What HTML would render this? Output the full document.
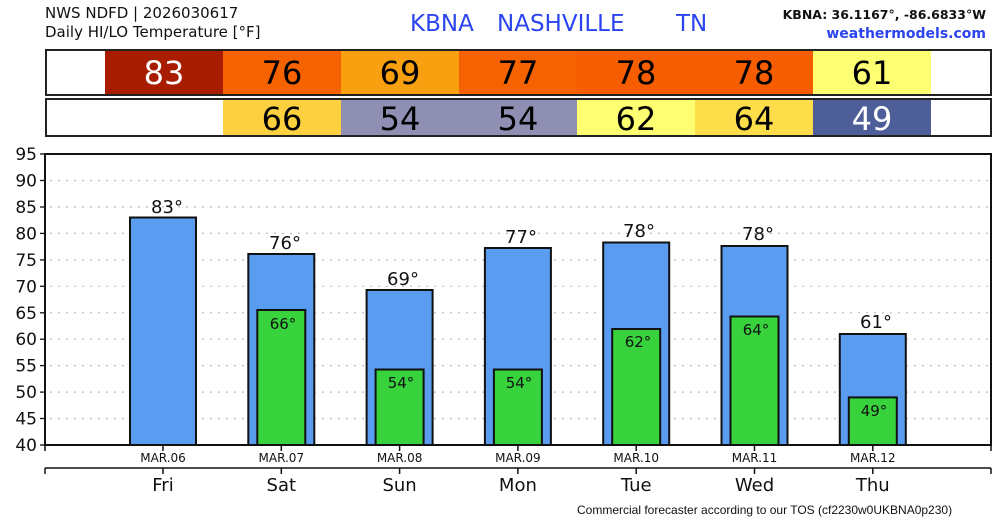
<!DOCTYPE html>
<html><head><meta charset="utf-8"><style>
html,body{margin:0;padding:0;background:#fff;}
svg{display:block;font-family:"DejaVu Sans","Liberation Sans",sans-serif;}
</style></head><body>
<svg width="1000" height="520" viewBox="0 0 1000 520" xmlns="http://www.w3.org/2000/svg">
<text x="45" y="18" font-size="15" fill="#111">NWS NDFD | 2026030617</text>
<text x="45" y="37" font-size="15" fill="#111">Daily HI/LO Temperature [°F]</text>
<text x="410" y="31" font-size="23" fill="#2a44f0">KBNA</text>
<text x="497" y="31" font-size="23" fill="#2a44f0">NASHVILLE</text>
<text x="676" y="31" font-size="23" fill="#2a44f0">TN</text>
<text x="986" y="19" font-size="12.5" fill="#111" text-anchor="end" font-weight="bold">KBNA: 36.1167°, -86.6833°W</text>
<text x="986" y="38" font-size="14" fill="#2a44f0" text-anchor="end" font-weight="bold">weathermodels.com</text>
<!-- HI row -->
<rect x="46" y="50" width="945" height="45" fill="#fff" stroke="#222" stroke-width="2"/>
<rect x="105" y="51" width="118" height="43" fill="#a81c00"/>
<rect x="223" y="51" width="118" height="43" fill="#f66200"/>
<rect x="341" y="51" width="118" height="43" fill="#f8a010"/>
<rect x="459" y="51" width="118" height="43" fill="#f66200"/>
<rect x="577" y="51" width="118" height="43" fill="#f65c00"/>
<rect x="695" y="51" width="118" height="43" fill="#f65c00"/>
<rect x="813" y="51" width="118" height="43" fill="#fefe72"/>
<g font-size="32" text-anchor="middle">
<text x="164" y="84" fill="#fff">83</text>
<text x="282" y="84">76</text>
<text x="400" y="84">69</text>
<text x="518" y="84">77</text>
<text x="636" y="84">78</text>
<text x="754" y="84">78</text>
<text x="872" y="84">61</text>
</g>
<!-- LO row -->
<rect x="46" y="99" width="945" height="37" fill="#fff" stroke="#222" stroke-width="2"/>
<rect x="223" y="100" width="118" height="35" fill="#fdd040"/>
<rect x="341" y="100" width="118" height="35" fill="#8f8fb4"/>
<rect x="459" y="100" width="118" height="35" fill="#8f8fb4"/>
<rect x="577" y="100" width="118" height="35" fill="#fefe72"/>
<rect x="695" y="100" width="118" height="35" fill="#fedd4a"/>
<rect x="813" y="100" width="118" height="35" fill="#4e5e98"/>
<g font-size="32" text-anchor="middle">
<text x="282" y="130">66</text>
<text x="400" y="130">54</text>
<text x="518" y="130">54</text>
<text x="636" y="130">62</text>
<text x="754" y="130">64</text>
<text x="872" y="130" fill="#fff">49</text>
</g>
<!-- grid -->
<g stroke="#bbb" stroke-width="1.2" stroke-dasharray="2,6">
<line x1="50" x2="990" y1="180.5" y2="180.5"/><line x1="50" x2="990" y1="207" y2="207"/>
<line x1="50" x2="990" y1="233.4" y2="233.4"/><line x1="50" x2="990" y1="259.9" y2="259.9"/>
<line x1="50" x2="990" y1="286.3" y2="286.3"/><line x1="50" x2="990" y1="312.8" y2="312.8"/>
<line x1="50" x2="990" y1="339.2" y2="339.2"/><line x1="50" x2="990" y1="365.6" y2="365.6"/>
<line x1="50" x2="990" y1="392.1" y2="392.1"/><line x1="50" x2="990" y1="418.5" y2="418.5"/>
</g>
<g font-size="17" text-anchor="end" fill="#111">
<text x="37" y="160">95</text><text x="37" y="186.5">90</text><text x="37" y="213">85</text>
<text x="37" y="239.4">80</text><text x="37" y="265.9">75</text><text x="37" y="292.3">70</text>
<text x="37" y="318.8">65</text><text x="37" y="345.2">60</text><text x="37" y="371.6">55</text>
<text x="37" y="398.1">50</text><text x="37" y="424.5">45</text><text x="37" y="451">40</text>
</g>
<g stroke="#111" stroke-width="1.3">
<line x1="40" x2="45" y1="154" y2="154"/><line x1="40" x2="45" y1="180.5" y2="180.5"/>
<line x1="40" x2="45" y1="207" y2="207"/><line x1="40" x2="45" y1="233.4" y2="233.4"/>
<line x1="40" x2="45" y1="259.9" y2="259.9"/><line x1="40" x2="45" y1="286.3" y2="286.3"/>
<line x1="40" x2="45" y1="312.8" y2="312.8"/><line x1="40" x2="45" y1="339.2" y2="339.2"/>
<line x1="40" x2="45" y1="365.6" y2="365.6"/><line x1="40" x2="45" y1="392.1" y2="392.1"/>
<line x1="40" x2="45" y1="418.5" y2="418.5"/><line x1="40" x2="45" y1="445" y2="445"/>
</g>
<!-- bars -->
<g stroke="#111" stroke-width="2" fill="#5a9cf0">
<rect x="130" y="217.5" width="66" height="227.5"/>
<rect x="248.3" y="254" width="66" height="191"/>
<rect x="366.6" y="290" width="66" height="155"/>
<rect x="484.9" y="248" width="66" height="197"/>
<rect x="603.2" y="242.5" width="66" height="202.5"/>
<rect x="721.5" y="246" width="66" height="199"/>
<rect x="839.8" y="334" width="66" height="111"/>
</g>
<g stroke="#111" stroke-width="2" fill="#38d23c">
<rect x="257.3" y="310" width="48" height="135"/>
<rect x="375.6" y="369.5" width="48" height="75.5"/>
<rect x="493.9" y="369.5" width="48" height="75.5"/>
<rect x="612.2" y="329" width="48" height="116"/>
<rect x="730.5" y="316.5" width="48" height="128.5"/>
<rect x="848.8" y="397.4" width="48" height="47.6"/>
</g>
<g font-size="18" text-anchor="middle" fill="#111">
<text x="167" y="213">83°</text><text x="285" y="249">76°</text><text x="403" y="285">69°</text>
<text x="521" y="243">77°</text><text x="639" y="237">78°</text><text x="758" y="240">78°</text>
<text x="876" y="328">61°</text>
</g>
<g font-size="15" text-anchor="middle" fill="#111">
<text x="283" y="329">66°</text><text x="401" y="388">54°</text><text x="519" y="388">54°</text>
<text x="638" y="347">62°</text><text x="756" y="335">64°</text><text x="874" y="416">49°</text>
</g>
<!-- frame -->
<rect x="45" y="154" width="946" height="291" fill="none" stroke="#111" stroke-width="2"/>
<g stroke="#111" stroke-width="1.5">
<line x1="45" x2="45" y1="445" y2="451"/><line x1="163" x2="163" y1="445" y2="451"/>
<line x1="281.3" x2="281.3" y1="445" y2="451"/><line x1="399.6" x2="399.6" y1="445" y2="451"/>
<line x1="517.9" x2="517.9" y1="445" y2="451"/><line x1="636.2" x2="636.2" y1="445" y2="451"/>
<line x1="754.5" x2="754.5" y1="445" y2="451"/><line x1="872.8" x2="872.8" y1="445" y2="451"/>
<line x1="991" x2="991" y1="445" y2="451"/>
<line x1="45" x2="991" y1="468" y2="468"/>
<line x1="45" x2="45" y1="468" y2="474"/><line x1="163" x2="163" y1="468" y2="474"/>
<line x1="281.3" x2="281.3" y1="468" y2="474"/><line x1="399.6" x2="399.6" y1="468" y2="474"/>
<line x1="517.9" x2="517.9" y1="468" y2="474"/><line x1="636.2" x2="636.2" y1="468" y2="474"/>
<line x1="754.5" x2="754.5" y1="468" y2="474"/><line x1="872.8" x2="872.8" y1="468" y2="474"/>
<line x1="991" x2="991" y1="468" y2="474"/>
</g>
<g font-size="12" text-anchor="middle" fill="#111">
<text x="163" y="462">MAR.06</text><text x="281.3" y="462">MAR.07</text><text x="399.6" y="462">MAR.08</text>
<text x="517.9" y="462">MAR.09</text><text x="636.2" y="462">MAR.10</text><text x="754.5" y="462">MAR.11</text>
<text x="872.8" y="462">MAR.12</text>
</g>
<g font-size="18" text-anchor="middle" fill="#111">
<text x="163" y="491">Fri</text><text x="281.3" y="491">Sat</text><text x="399.6" y="491">Sun</text>
<text x="517.9" y="491">Mon</text><text x="636.2" y="491">Tue</text><text x="754.5" y="491">Wed</text>
<text x="872.8" y="491">Thu</text>
</g>
<text x="577" y="514" font-size="12" font-family="Liberation Sans, sans-serif" fill="#111">Commercial forecaster according to our TOS (cf2230w0UKBNA0p230)</text>
</svg>
</body></html>
